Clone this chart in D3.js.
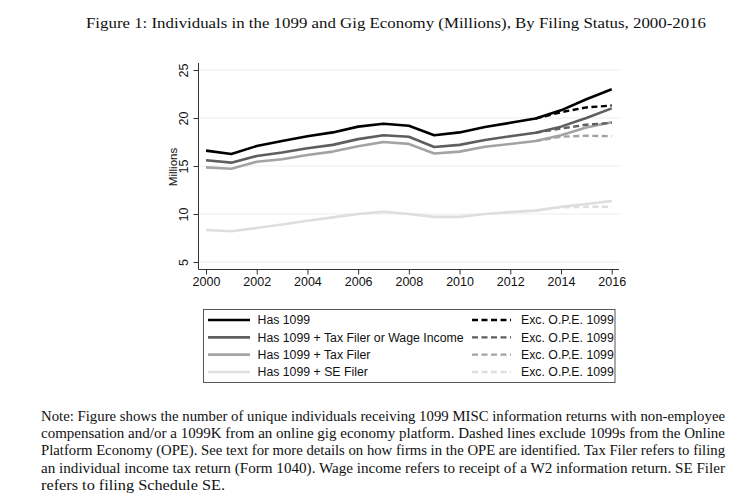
<!DOCTYPE html>
<html>
<head>
<meta charset="utf-8">
<script src="https://cdn.jsdelivr.net/npm/d3@7"></script>
<style>
  body { margin: 0; background: #fff; }
  svg { display: block; }
</style>
</head>
<body>
<div id="chart"></div>
<script>
var width = 749,
    height = 498;

// years and series (millions)
var years = d3.range(2000, 2017);
var has1099     = [16.6, 16.25, 17.08, 17.6, 18.1, 18.5, 19.1, 19.4, 19.2, 18.2, 18.5, 19.06, 19.5, 19.95, 20.8, 21.95, 23.0];
var taxOrWage   = [15.6, 15.35, 16.04, 16.4, 16.84, 17.2, 17.8, 18.2, 18.05, 16.98, 17.2, 17.7, 18.1, 18.47, 19.1, 20.0, 21.0];
var taxFiler    = [14.86, 14.72, 15.45, 15.7, 16.15, 16.5, 17.05, 17.5, 17.3, 16.3, 16.5, 17.0, 17.3, 17.6, 18.2, 19.0, 19.55];
var seFiler     = [8.33, 8.2, 8.54, 8.9, 9.3, 9.65, 10.0, 10.24, 10.0, 9.7, 9.7, 10.0, 10.2, 10.35, 10.75, 11.05, 11.35];

// excluding online platform economy 1099s (2013-2016)
var opeYears      = [2013, 2014, 2015, 2016];
var has1099Exc    = [19.95, 20.6, 21.1, 21.3];
var taxOrWageExc  = [18.47, 18.9, 19.3, 19.5];
var taxFilerExc   = [17.6, 18.05, 18.15, 18.1];
var seFilerExc    = [10.35, 10.7, 10.75, 10.75];

var yTicks = [5, 10, 15, 20, 25];
var xTicks = [2000, 2002, 2004, 2006, 2008, 2010, 2012, 2014, 2016];

var labels = ["Has 1099", "Has 1099 + Tax Filer or Wage Income", "Has 1099 + Tax Filer", "Has 1099 + SE Filer"];
var excLabel = "Exc. O.P.E. 1099";
var colors = ["#000000", "#5e5e5e", "#a3a3a3", "#dedede"];

var title = "Figure 1: Individuals in the 1099 and Gig Economy (Millions), By Filing Status, 2000-2016";
var noteLines = [
  "Note: Figure shows the number of unique individuals receiving 1099 MISC information returns with non-employee",
  "compensation and/or a 1099K from an online gig economy platform. Dashed lines exclude 1099s from the Online",
  "Platform Economy (OPE). See text for more details on how firms in the OPE are identified. Tax Filer refers to filing",
  "an individual income tax return (Form 1040). Wage income refers to receipt of a W2 information return. SE Filer",
  "refers to filing Schedule SE."
];

var solid = [has1099, taxOrWage, taxFiler, seFiler];
var dashed = [has1099Exc, taxOrWageExc, taxFilerExc, seFilerExc];

var svg = d3.select("#chart").append("svg")
    .attr("width", width)
    .attr("height", height);

var x = d3.scaleLinear().domain([2000, 2016]).range([206, 611.7]);
var y = d3.scaleLinear().domain([5, 25]).range([262, 70]);

var serif = "'Liberation Serif', 'DejaVu Serif', serif",
    sans = "'Liberation Sans', Arial, sans-serif";

// title
svg.append("text")
    .attr("x", 86)
    .attr("y", 28)
    .attr("textLength", 620)
    .attr("lengthAdjust", "spacingAndGlyphs")
    .style("font-family", serif)
    .style("font-size", "15px")
    .style("fill", "#111")
    .text(title);

// gridlines
svg.append("g").selectAll("line")
    .data(yTicks)
  .enter().append("line")
    .attr("x1", 199)
    .attr("x2", 619)
    .attr("y1", function(d) { return y(d); })
    .attr("y2", function(d) { return y(d); })
    .style("stroke", "#e6eff1")
    .style("stroke-width", 1);

// axes
var yAxis = svg.append("g")
    .attr("transform", "translate(198.5,0)")
    .call(d3.axisLeft(y).tickValues(yTicks).tickSize(5).tickSizeOuter(0));
yAxis.select(".domain").remove();
yAxis.selectAll(".tick line").style("stroke", "#333");
yAxis.selectAll(".tick text")
    .attr("x", 0).attr("dy", 0)
    .attr("transform", "translate(-11,0) rotate(-90)")
    .style("text-anchor", "middle")
    .style("font-family", sans)
    .style("font-size", "12.5px")
    .style("fill", "#111");
svg.append("line")
    .attr("x1", 198.5).attr("x2", 198.5)
    .attr("y1", 63).attr("y2", 269.5)
    .style("stroke", "#333");

var xAxis = svg.append("g")
    .attr("transform", "translate(0,269.5)")
    .call(d3.axisBottom(x).tickValues(xTicks).tickFormat(d3.format("d")).tickSize(5).tickSizeOuter(0));
xAxis.select(".domain").remove();
xAxis.selectAll(".tick line").style("stroke", "#333");
xAxis.selectAll(".tick text")
    .attr("y", 8)
    .style("font-family", sans)
    .style("font-size", "12.5px")
    .style("fill", "#111");
svg.append("line")
    .attr("x1", 198.5).attr("x2", 619)
    .attr("y1", 269.5).attr("y2", 269.5)
    .style("stroke", "#333");

// y label
svg.append("text")
    .attr("transform", "translate(177," + y(14.9) + ") rotate(-90)")
    .style("text-anchor", "middle")
    .style("font-family", sans)
    .style("font-size", "11.5px")
    .style("fill", "#111")
    .text("Millions");

// lines
var line = d3.line()
    .x(function(d) { return x(d[0]); })
    .y(function(d) { return y(d[1]); });

var plot = svg.append("g");

// draw lightest first so dark lines sit on top
for (var i = solid.length - 1; i >= 0; i--) {
  plot.append("path")
      .datum(dashed[i].map(function(v, j) { return [opeYears[j], v]; }))
      .attr("d", line)
      .style("fill", "none")
      .style("stroke", colors[i])
      .style("stroke-width", 2.4)
      .style("stroke-dasharray", "6,3.5");
  plot.append("path")
      .datum(solid[i].map(function(v, j) { return [years[j], v]; }))
      .attr("d", line)
      .style("fill", "none")
      .style("stroke", colors[i])
      .style("stroke-width", 2.6)
      .style("stroke-linejoin", "round");
}

// legend
var legend = svg.append("g");
legend.append("rect")
    .attr("x", 203.5).attr("y", 309.5)
    .attr("width", 411.5).attr("height", 73)
    .style("fill", "#fff")
    .style("stroke", "#555")
    .style("stroke-width", 1);

var rowY = d3.scaleLinear().domain([0, 3]).range([320, 372]);

var rows = legend.selectAll(".row")
    .data(labels)
  .enter().append("g")
    .attr("class", "row")
    .attr("transform", function(d, i) { return "translate(0," + rowY(i) + ")"; });

rows.append("line")
    .attr("x1", 208).attr("x2", 250)
    .style("stroke", function(d, i) { return colors[i]; })
    .style("stroke-width", 2.6);
rows.append("text")
    .attr("x", 257.5).attr("dy", "0.36em")
    .style("font-family", sans)
    .style("font-size", "12.3px")
    .style("fill", "#111")
    .text(function(d) { return d; });
rows.append("line")
    .attr("x1", 472).attr("x2", 511)
    .style("stroke", function(d, i) { return colors[i]; })
    .style("stroke-width", 2.4)
    .style("stroke-dasharray", "6,3.5");
rows.append("text")
    .attr("x", 521).attr("dy", "0.36em")
    .style("font-family", sans)
    .style("font-size", "12.3px")
    .style("fill", "#111")
    .text(excLabel);

// note, justified
var note = svg.append("g");
noteLines.forEach(function(t, i) {
  var last = i === noteLines.length - 1;
  note.append("text")
      .attr("x", 41)
      .attr("y", 421 + i * 17.2)
      .attr("textLength", last ? 184 : 684)
      .attr("lengthAdjust", "spacingAndGlyphs")
      .style("font-family", serif)
      .style("font-size", "14px")
      .style("fill", "#111")
      .text(t);
});
</script>
</body>
</html>
